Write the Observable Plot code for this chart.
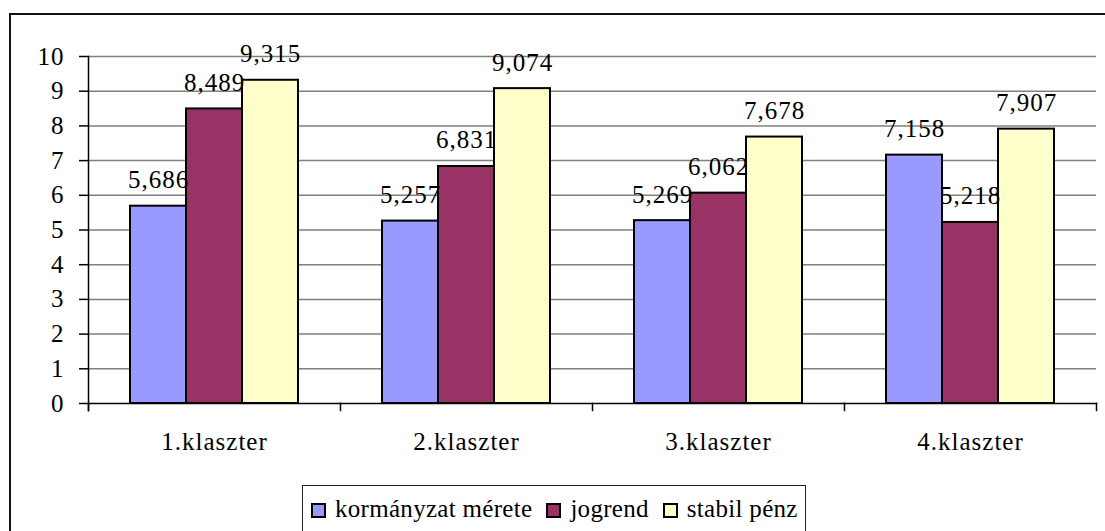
<!DOCTYPE html>
<html>
<head>
<meta charset="utf-8">
<script src="https://cdn.jsdelivr.net/npm/d3@7"></script>
<script src="https://cdn.jsdelivr.net/npm/@observablehq/plot@0.6"></script>
<style>
  html, body { margin: 0; padding: 0; background: #fff; }
  body { width: 1105px; height: 531px; overflow: hidden; position: relative; font-family: "Liberation Serif", "Times New Roman", serif; }
  #outer { position: absolute; left: 9px; top: 13px; width: 1200px; height: 600px; border: 2px solid #111; box-sizing: border-box; pointer-events: none; z-index: 2; }
  #chart { position: absolute; left: 0; top: 0; }
  #chart svg { background: transparent !important; }
  #chart svg text { letter-spacing: 1px; }
  #legend { position: absolute; left: 302px; top: 485px; width: 504px; height: 50px; border: 1px solid #222; box-sizing: border-box;
            display: flex; align-items: center; padding-left: 8px; padding-bottom: 3px; font-size: 25px; letter-spacing: 0.3px; color: #000; background: #fff; z-index: 3; }
  .item { display: flex; align-items: center; margin-right: 14px; white-space: nowrap; }
  .sw { width: 15px; height: 15px; border: 2px solid #000; box-sizing: border-box; margin-right: 9px; margin-top: 3px; }
</style>
</head>
<body>
<div id="outer"></div>
<div id="chart"></div>
<div id="legend"></div>
<script>
const clusters = ["1.klaszter", "2.klaszter", "3.klaszter", "4.klaszter"];
const series = ["kormányzat mérete", "jogrend", "stabil pénz"];
const kormanyzatMerete = [5.686, 5.257, 5.269, 7.158];
const jogrend = [8.489, 6.831, 6.062, 5.218];
const stabilPenz = [9.315, 9.074, 7.678, 7.907];
const colors = ["#9999FF", "#993366", "#FFFFCC"];
const yTicks = [0, 1, 2, 3, 4, 5, 6, 7, 8, 9, 10];

const valueArrays = [kormanyzatMerete, jogrend, stabilPenz];
const data = [];
clusters.forEach((c, i) => {
  series.forEach((s, k) => data.push({cluster: c, series: s, value: valueArrays[k][i]}));
});
const fmt = v => d3.format(".3f")(v).replace(".", ",");

const chart = Plot.plot({
  width: 1105,
  height: 480,
  marginLeft: 87,
  marginRight: 8,
  marginTop: 56,
  marginBottom: 77,
  style: {fontFamily: "Liberation Serif, Times New Roman, serif", fontSize: "25px", color: "#000", background: "transparent"},
  fx: {domain: clusters, padding: 0, axis: null},
  x: {domain: series, paddingInner: 0, paddingOuter: 0.715, axis: null},
  y: {domain: [0, 10], axis: null},
  color: {domain: series, range: colors},
  marks: [
    Plot.ruleY(yTicks.filter(t => t > 0), {y: d => d, stroke: "#808080", strokeWidth: 1.5, strokeOpacity: 1}),
    Plot.barY(data, {fx: "cluster", x: "series", y: "value", fill: "series", stroke: "#000", strokeWidth: 2}),
    Plot.text(data, {fx: "cluster", x: "series", y: "value", text: d => fmt(d.value), lineAnchor: "bottom", dy: -18, fontSize: 25, fill: "#000"}),
    Plot.frame({anchor: "bottom", stroke: "#000", strokeWidth: 1.5}),
    Plot.frame({anchor: "left", stroke: "#000", strokeWidth: 1.5, insetTop: 347, insetBottom: -7}),
    Plot.frame({anchor: "left", facetAnchor: "left", stroke: "#000", strokeWidth: 1.5, insetBottom: -7}),
    Plot.frame({anchor: "right", facetAnchor: "right", stroke: "#000", strokeWidth: 1.5, insetTop: 347, insetBottom: -7}),
    Plot.axisY({ticks: yTicks, tickSize: 9, tickPadding: 15, fontSize: 25, label: null, stroke: "#000", strokeWidth: 1.5, tickFormat: d => String(d)}),
    Plot.axisFx({anchor: "bottom", tickSize: 0, tickPadding: 29, fontSize: 25, label: null})
  ]
});
document.getElementById("chart").appendChild(chart);

const legend = document.getElementById("legend");
series.forEach((s, k) => {
  const item = document.createElement("div");
  item.className = "item";
  const sw = document.createElement("div");
  sw.className = "sw";
  sw.style.background = colors[k];
  const t = document.createElement("span");
  t.textContent = s;
  item.appendChild(sw);
  item.appendChild(t);
  legend.appendChild(item);
});
</script>
</body>
</html>
